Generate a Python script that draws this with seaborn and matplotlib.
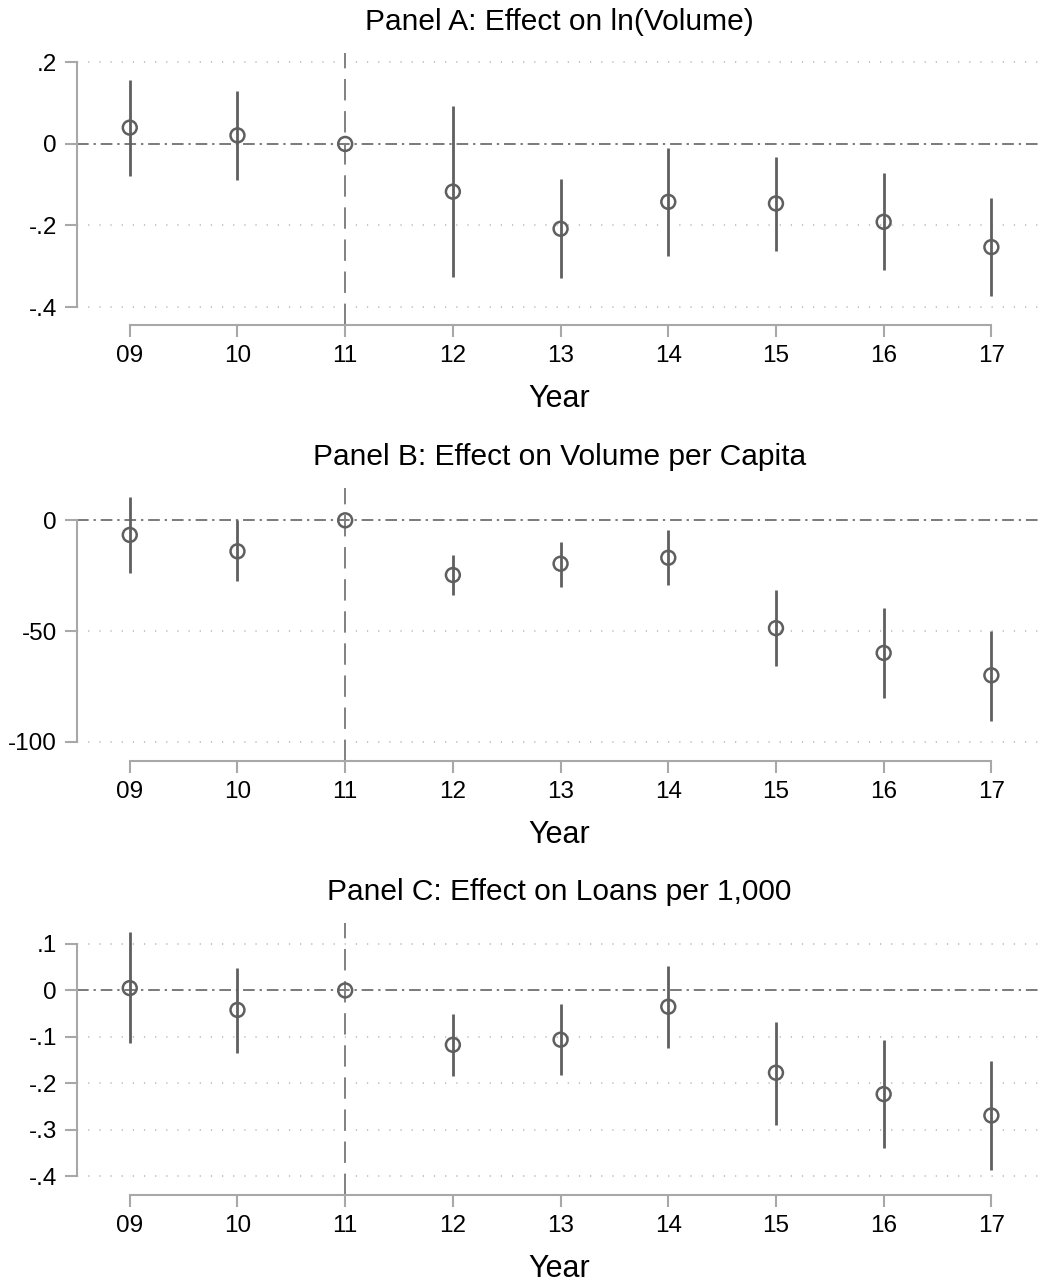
import numpy as np
import pandas as pd
import matplotlib
matplotlib.use("Agg")
import matplotlib.pyplot as plt
import seaborn as sns

# event years (2009-2017), 2011 is the reference year
years = [9, 10, 11, 12, 13, 14, 15, 16, 17]
year_labels = ["09", "10", "11", "12", "13", "14", "15", "16", "17"]

# Panel A: ln(Volume)
a_est = [0.040, 0.021, 0.0, -0.117, -0.208, -0.142, -0.146, -0.191, -0.253]
a_lo = [-0.078, -0.088, np.nan, -0.326, -0.328, -0.274, -0.263, -0.310, -0.372]
a_hi = [0.157, 0.130, np.nan, 0.093, -0.085, -0.011, -0.031, -0.071, -0.133]

# Panel B: Volume per Capita
b_est = [-6.6, -14.0, 0.0, -24.7, -19.6, -16.9, -48.7, -59.9, -70.0]
b_lo = [-23.8, -27.6, np.nan, -33.8, -30.0, -29.3, -65.9, -80.1, -90.5]
b_hi = [10.4, 0.0, np.nan, -15.7, -9.7, -4.5, -31.5, -39.7, -49.8]

# Panel C: Loans per 1,000
c_est = [0.005, -0.042, 0.0, -0.117, -0.106, -0.035, -0.177, -0.223, -0.269]
c_lo = [-0.114, -0.134, np.nan, -0.185, -0.182, -0.123, -0.290, -0.338, -0.386]
c_hi = [0.125, 0.048, np.nan, -0.050, -0.030, 0.052, -0.068, -0.107, -0.152]

panels = [
    ("Panel A: Effect on ln(Volume)", a_est, a_lo, a_hi,
     [0.2, 0, -0.2, -0.4], [".2", "0", "-.2", "-.4"], (-0.444, 0.223)),
    ("Panel B: Effect on Volume per Capita", b_est, b_lo, b_hi,
     [0, -50, -100], ["0", "-50", "-100"], (-108.7, 14.6)),
    ("Panel C: Effect on Loans per 1,000", c_est, c_lo, c_hi,
     [0.1, 0, -0.1, -0.2, -0.3, -0.4], [".1", "0", "-.1", "-.2", "-.3", "-.4"], (-0.440, 0.145)),
]

sns.set_theme(style="white")
plt.rcParams["font.family"] = ["Liberation Sans", "DejaVu Sans"]
plt.rcParams["text.color"] = "black"
plt.rcParams["axes.labelcolor"] = "black"

W, H = 1042, 1283
fig = plt.figure(figsize=(W / 100, H / 100), dpi=100)

tops = [53, 488, 923]
bottoms = [325, 761, 1195]
left = 77

mark_col = "#5f5f5f"
axis_col = "#a8a8a8"

for (title, est, lo, hi, yt, ytl, ylim), top, bot in zip(panels, tops, bottoms):
    ax = fig.add_axes([left / W, 1 - bot / H, 1 - left / W, (bot - top) / H])
    df = pd.DataFrame({"year": years, "est": est, "lo": lo, "hi": hi})

    # grid (dotted), zero line (dash-dot), reference year line (long dash)
    for t in yt:
        if t != 0:
            ax.axhline(t, color="#b5b5b5", lw=1.1, ls=(0, (0.8, 6.5)), zorder=0)
    ax.axhline(0, color="#7a7a7a", lw=1.4, ls=(0, (6, 2.5, 1.2, 2.5)), zorder=1)
    ax.axvline(11, color="#808080", lw=1.4, ls=(0, (11, 5.5)), zorder=1)

    ax.vlines(df["year"], df["lo"], df["hi"], color=mark_col, lw=2.0, zorder=2)
    sns.scatterplot(data=df, x="year", y="est", ax=ax, marker="o", s=100,
                    facecolor="none", edgecolor=mark_col, linewidth=1.8,
                    zorder=3, legend=False)

    ax.set_xlim(8.51, 17.47)
    ax.set_ylim(*ylim)
    ax.set_xticks(years)
    ax.set_xticklabels(year_labels)
    ax.set_yticks(yt)
    ax.set_yticklabels(ytl)

    sns.despine(ax=ax, top=True, right=True)
    ax.spines["left"].set_bounds(min(yt), max(yt))
    ax.spines["bottom"].set_bounds(years[0], years[-1])
    for s in ("left", "bottom"):
        ax.spines[s].set_color(axis_col)
        ax.spines[s].set_linewidth(1.5)
    ax.tick_params(axis="both", colors=axis_col, width=1.5, length=8.5,
                   labelcolor="black", labelsize=17.5, pad=6, left=True, bottom=True)
    ax.grid(False)

    ax.set_title(title, fontsize=21.5, pad=16.5)
    ax.set_xlabel("Year", fontsize=22, labelpad=12)
    ax.set_ylabel("")

fig.savefig("out.png", dpi=100)
